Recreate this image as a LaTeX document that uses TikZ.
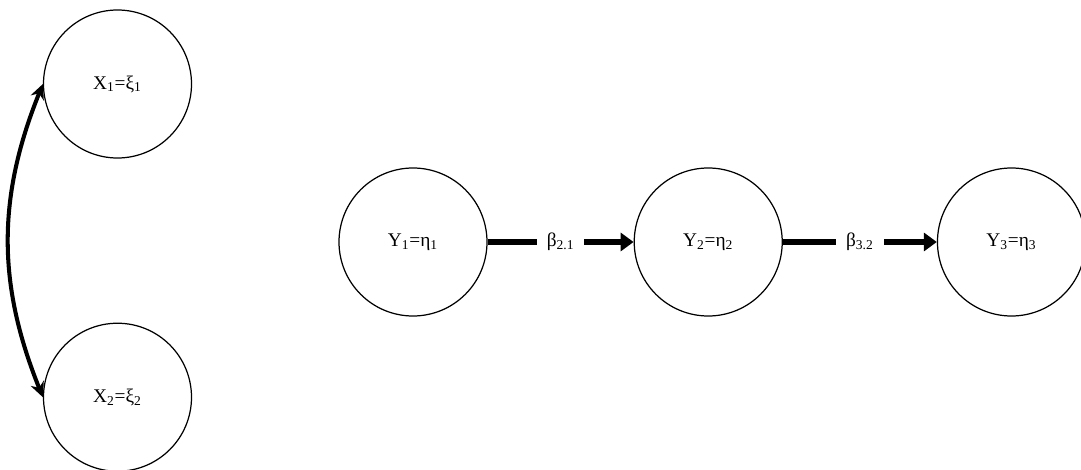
\documentclass[tikz,border=0pt]{standalone}
\usepackage{fontspec}
\setmainfont{Liberation Serif}
\usepackage{tikz}
\usetikzlibrary{arrows.meta, positioning}
\tikzset{
  varnode/.style={circle, draw=black, line width=0.7pt, minimum size=2.96cm,
                  inner sep=0pt, align=center, font=\fontsize{11}{13}\selectfont},
  coeflabel/.style={fill=white, inner xsep=0.2cm, inner ysep=2pt,
                    font=\fontsize{11}{13}\selectfont},
  patharrow/.style={-{Triangle[length=2.6mm, width=3.6mm]}, line width=3.4pt},
  covarrow/.style={{Stealth[length=3mm, width=2.8mm]}-{Stealth[length=3mm, width=2.8mm]},
                   line width=2.3pt}
}
\begin{document}
\begin{tikzpicture}
  \useasboundingbox (0,0) rectangle (21.62,9.38);
  % exogenous variables
  \node[varnode] (x1) at (2.35,7.70) {X\textsubscript{1}=ξ\textsubscript{1}};
  \node[varnode, below=3.28cm of x1] (x2) {X\textsubscript{2}=ξ\textsubscript{2}};
  % endogenous chain
  \node[varnode] (y1) at (8.26,4.54) {Y\textsubscript{1}=η\textsubscript{1}};
  \node[varnode, right=2.92cm of y1] (y2) {Y\textsubscript{2}=η\textsubscript{2}};
  \node[varnode, right=3.08cm of y2] (y3) {Y\textsubscript{3}=η\textsubscript{3}};
  % connectors
  \draw[covarrow] (x1.west) to[bend right=22] (x2.west);
  \draw[patharrow] (y1) -- node[coeflabel] {β\textsubscript{2.1}} (y2);
  \draw[patharrow] (y2) -- node[coeflabel] {β\textsubscript{3.2}} (y3);
\end{tikzpicture}
\end{document}
